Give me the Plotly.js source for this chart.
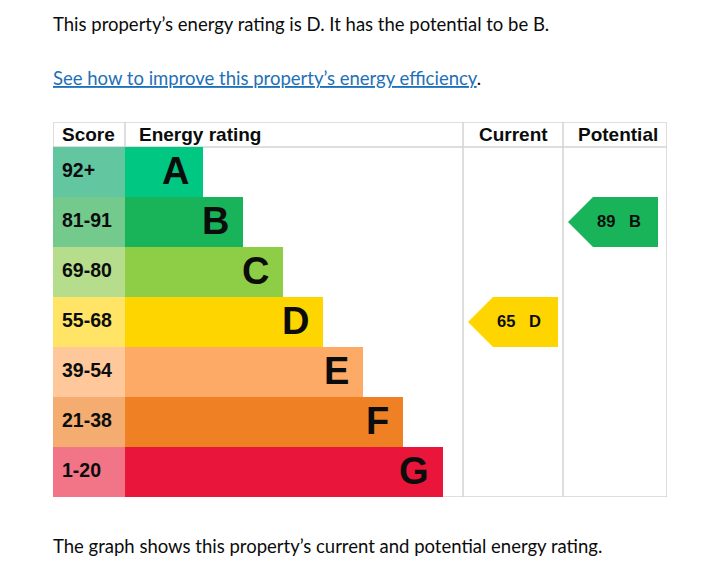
<!DOCTYPE html>
<html>
<head>
<meta charset="utf-8">
<script src="https://cdn.plot.ly/plotly-3.0.1.min.js"></script>
<style>
html,body{margin:0;padding:0;background:#fff;}
#chart{width:716px;height:580px;}
</style>
</head>
<body>
<div id="chart"></div>
<script>
// ---- data ----
const bands = ['A', 'B', 'C', 'D', 'E', 'F', 'G'];
const scoreRanges = ['92+', '81-91', '69-80', '55-68', '39-54', '21-38', '1-20'];
const bandMins = [92, 81, 69, 55, 39, 21, 1];
const barLengths = [78, 118, 158, 198, 238, 278, 318];
const bandColors = ['#00c781', '#19b459', '#8dce46', '#ffd500', '#fcaa65', '#ef8023', '#e9153b'];
const scoreColors = ['#62c6a1', '#74c98d', '#b5dd8c', '#ffe466', '#fec89a', '#f4ac71', '#f27487'];
const currentScore = 65;
const potentialScore = 89;
const headers = ['Score', 'Energy rating', 'Current', 'Potential'];
const introText = 'This property\u2019s energy rating is D. It has the potential to be B.';
const linkText = 'See how to improve this property\u2019s energy efficiency';
const footText = 'The graph shows this property\u2019s current and potential energy rating.';

// ---- layout constants ----
const W = 716, H = 580;
const L = 53, R = 667, T = 122, B = 497;
const plotW = R - L;
const scoreColW = 72;
const currentColX = 410;
const potentialColX = 510;
const tableRight = plotW;
const lineColor = '#d3d3d3';
const ink = '#0b0c0c';
const boldFont = 'Liberation Sans, Arial, sans-serif';
const bodyFont = 'Lato, Noto Sans, sans-serif';

function bandIndex(score) {
  for (let i = 0; i < bandMins.length; i++) if (score >= bandMins[i]) return i;
  return bandMins.length - 1;
}
const idx = bands.map((b, i) => i);

const traces = [];
// score cells
traces.push({
  type: 'bar', orientation: 'h', y: idx, x: idx.map(() => scoreColW), base: 0,
  width: 1, marker: {color: scoreColors, line: {width: 0}}, hoverinfo: 'skip', showlegend: false
});
// rating bars
traces.push({
  type: 'bar', orientation: 'h', y: idx, x: barLengths, base: scoreColW,
  width: 1, marker: {color: bandColors, line: {width: 0}}, hoverinfo: 'skip', showlegend: false
});

function arrowTrace(colX, score) {
  const i = bandIndex(score);
  return {
    type: 'scatter', mode: 'lines', fill: 'toself', fillcolor: bandColors[i],
    line: {width: 0, color: bandColors[i]},
    x: [colX + 5, colX + 30, colX + 95, colX + 95, colX + 30, colX + 5],
    y: [i, i - 0.5, i - 0.5, i + 0.5, i + 0.5, i],
    hoverinfo: 'skip', showlegend: false
  };
}
traces.push(arrowTrace(currentColX, currentScore));
traces.push(arrowTrace(potentialColX, potentialScore));

const annotations = [];
// header labels
const hdrY = -0.75;
const hdrFont = {family: boldFont, size: 19, color: ink, weight: 'bold'};
annotations.push({x: 0, y: hdrY, xref: 'x', yref: 'y', text: headers[0], xanchor: 'left', xshift: 7, showarrow: false, font: hdrFont});
annotations.push({x: scoreColW, y: hdrY, xref: 'x', yref: 'y', text: headers[1], xanchor: 'left', xshift: 12, showarrow: false, font: hdrFont});
annotations.push({x: (currentColX + potentialColX) / 2, y: hdrY, xref: 'x', yref: 'y', text: headers[2], xanchor: 'center', xshift: 0, showarrow: false, font: hdrFont});
annotations.push({x: (potentialColX + tableRight) / 2, y: hdrY, xref: 'x', yref: 'y', text: headers[3], xanchor: 'center', xshift: 3, showarrow: false, font: hdrFont});

idx.forEach(i => {
  annotations.push({x: 0, y: i, xref: 'x', yref: 'y', text: scoreRanges[i], xanchor: 'left', xshift: 7, yshift: 2, showarrow: false, font: {family: boldFont, size: 19.5, color: ink, weight: 'bold'}});
  annotations.push({x: scoreColW + barLengths[i], y: i, xref: 'x', yref: 'y', text: bands[i], xanchor: 'right', xshift: -12, yshift: 1, showarrow: false, font: {family: boldFont, size: 38, color: ink, weight: 'bold'}});
});

function arrowLabel(colX, score) {
  const i = bandIndex(score);
  return {x: colX + 56, y: i, xref: 'x', yref: 'y', text: score + '\u00a0\u00a0\u00a0' + bands[i], xanchor: 'center', yshift: 1, showarrow: false, font: {family: boldFont, size: 16.5, color: ink, weight: 'bold'}};
}
annotations.push(arrowLabel(currentColX, currentScore));
annotations.push(arrowLabel(potentialColX, potentialScore));

// page text
function py(p) { return (B - p) / (B - T); }
const bodyF = {family: bodyFont, size: 18.5, color: ink};
annotations.push({x: 0, y: py(24), xref: 'paper', yref: 'paper', xanchor: 'left', yanchor: 'middle', xshift: -2, text: introText, showarrow: false, font: bodyF});
annotations.push({x: 0, y: py(78), xref: 'paper', yref: 'paper', xanchor: 'left', yanchor: 'middle', xshift: -2, text: '<span style="color:#1d70b8"><u>' + linkText + '</u></span>.', showarrow: false, font: bodyF});
annotations.push({x: 0, y: py(546), xref: 'paper', yref: 'paper', xanchor: 'left', yanchor: 'middle', xshift: -2, text: footText, showarrow: false, font: bodyF});

// table lines
const shapes = [];
function line(x0, y0, x1, y1) {
  shapes.push({type: 'line', xref: 'x', yref: 'y', x0: x0, y0: y0, x1: x1, y1: y1, layer: 'below', line: {color: lineColor, width: 1.5}});
}
line(0, -1, tableRight, -1);
line(0, -0.5, tableRight, -0.5);
line(0, 6.5, tableRight, 6.5);
line(0, -1, 0, -0.5);
line(scoreColW, -1, scoreColW, -0.5);
line(currentColX, -1, currentColX, 6.5);
line(potentialColX, -1, potentialColX, 6.5);
line(tableRight, -1, tableRight, 6.5);

const layout = {
  width: W, height: H,
  margin: {l: L, r: W - R, t: T, b: H - B, pad: 0},
  paper_bgcolor: '#fff', plot_bgcolor: '#fff',
  barmode: 'overlay', bargap: 0,
  xaxis: {range: [0, plotW], visible: false, fixedrange: true},
  yaxis: {range: [6.5, -1], visible: false, fixedrange: true},
  showlegend: false,
  annotations: annotations,
  shapes: shapes
};

Plotly.newPlot('chart', traces, layout, {staticPlot: true, displayModeBar: false});
</script>
</body>
</html>
